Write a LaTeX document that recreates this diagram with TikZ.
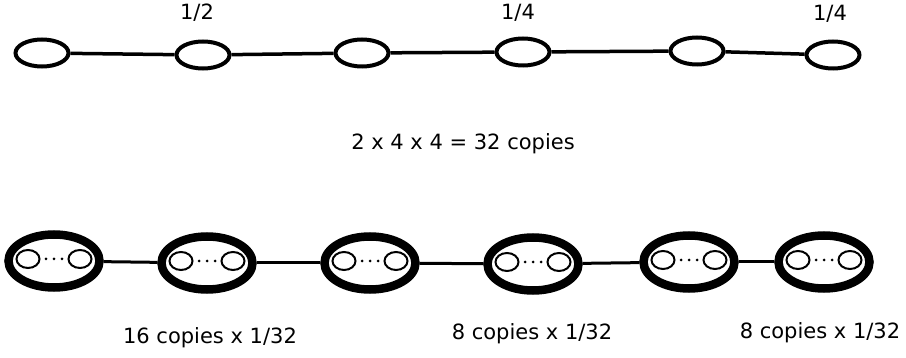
\documentclass[tikz,border=0pt]{standalone}
\usepackage{fontspec}
\setmainfont{DejaVu Sans}
\usetikzlibrary{shapes.geometric}
\begin{document}
\begin{tikzpicture}[x=1pt,y=-1pt,
  small/.style={draw=black,ellipse,line width=4pt,minimum width=53pt,minimum height=27pt,inner sep=0pt},
  big/.style={draw=black,ellipse,line width=8.5pt,minimum width=91pt,minimum height=53pt,inner sep=0pt},
  inner/.style={draw=black,ellipse,line width=2pt,minimum width=23pt,minimum height=18pt,inner sep=0pt},
  dotn/.style={fill=black,circle,minimum size=3pt,inner sep=0pt},
  topline/.style={line width=3.5pt},
  botline/.style={line width=3pt},
  lab/.style={font=\fontsize{21}{25}\selectfont,anchor=base,inner sep=0pt}]
\useasboundingbox (0,0) rectangle (906,358);
% top row
\node[small] (t1) at (42,53) {};
\node[small] (t2) at (203,55) {};
\node[small] (t3) at (362,53) {};
\node[small] (t4) at (523,52) {};
\node[small] (t5) at (697,51) {};
\node[small] (t6) at (833,55) {};
\draw[topline] (t1) -- (t2);
\draw[topline] (t2) -- (t3);
\draw[topline] (t3) -- (t4);
\draw[topline] (t4) -- (t5);
\draw[topline] (t5) -- (t6);
\node[lab] (l1) at (197,20) {1/2};
\node[lab] (l2) at (518,20) {1/4};
\node[lab] (l3) at (830,21) {1/4};
\node[lab] (mid) at (463,150) {2 x 4 x 4 = 32 copies};
% bottom row
\foreach \i/\x/\y in {1/54/261,2/207/263,3/370/263,4/533/264,5/689/262,6/824/262}{
  \node[big] (b\i) at (\x,\y) {};
  \node[inner] (b\i l) at (\x-26,\y-2) {};
  \node[inner] (b\i r) at (\x+26,\y-2) {};
  \node[dotn] (b\i d1) at (\x-8,\y-2) {};
  \node[dotn] (b\i d2) at (\x,\y-2) {};
  \node[dotn] (b\i d3) at (\x+8,\y-2) {};
}
\draw[botline] (b1) -- (b2);
\draw[botline] (b2) -- (b3);
\draw[botline] (b3) -- (b4);
\draw[botline] (b4) -- (b5);
\draw[botline] (b5) -- (b6);
\node[lab] (c1) at (210,344) {16 copies x 1/32};
\node[lab] (c2) at (532,340) {8 copies x 1/32};
\node[lab] (c3) at (820,339) {8 copies x 1/32};
\end{tikzpicture}
\end{document}
